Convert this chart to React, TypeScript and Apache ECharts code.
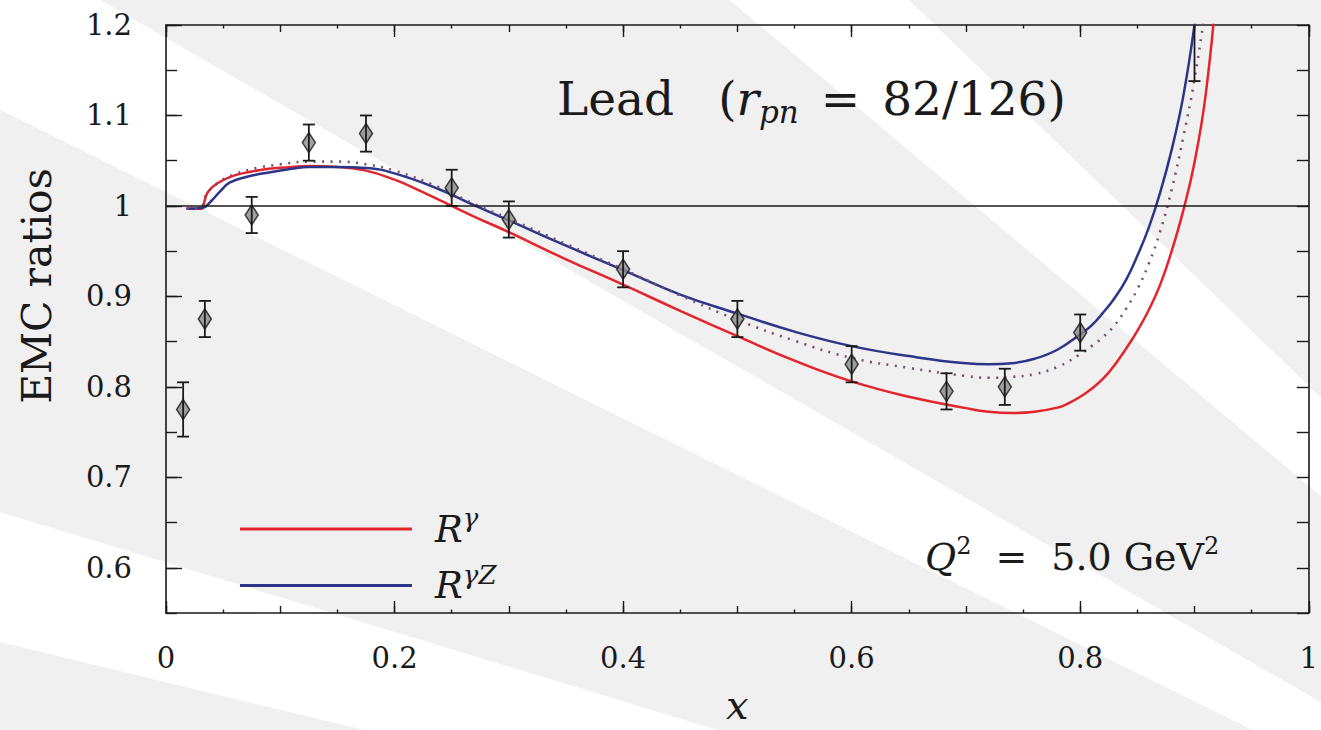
import React, { useEffect, useRef } from "react";
import * as echarts from "echarts";

// ---------------- data ----------------
const X_TICK_LABELS = [0, 0.2, 0.4, 0.6, 0.8, 1];
const Y_TICK_LABELS = [0.6, 0.7, 0.8, 0.9, 1, 1.1, 1.2];
const Y_MAJOR_TICKS = [0.6, 0.7, 0.8, 0.9, 1, 1.1, 1.2];

// experimental points (x, ratio, error)
const DATA_X = [0.015, 0.034, 0.075, 0.125, 0.175, 0.25, 0.3, 0.4, 0.5, 0.6, 0.683, 0.734, 0.8, 0.9];
const DATA_Y = [0.775, 0.875, 0.99, 1.07, 1.08, 1.02, 0.985, 0.93, 0.875, 0.825, 0.795, 0.8, 0.86, 1.22];
const DATA_ERR = [0.03, 0.02, 0.02, 0.02, 0.02, 0.02, 0.02, 0.02, 0.02, 0.02, 0.02, 0.02, 0.02, 0.082];

// R^gamma (red)
const RG_X = [0.018, 0.031, 0.034, 0.037, 0.045, 0.058, 0.075, 0.09, 0.11, 0.125, 0.15, 0.175, 0.2, 0.22, 0.24, 0.27, 0.3, 0.35, 0.4, 0.45, 0.5, 0.55, 0.6, 0.65, 0.7, 0.72, 0.74, 0.76, 0.78, 0.79, 0.8, 0.81, 0.82, 0.83, 0.84, 0.85, 0.86, 0.87, 0.88, 0.89, 0.9, 0.91, 0.92, 0.93];
const RG_Y = [0.997, 0.997, 1.007, 1.016, 1.025, 1.033, 1.038, 1.041, 1.043, 1.044, 1.043, 1.039, 1.029, 1.018, 1.006, 0.988, 0.971, 0.941, 0.913, 0.884, 0.856, 0.829, 0.806, 0.789, 0.7765, 0.7725, 0.771, 0.7725, 0.777, 0.782, 0.789, 0.798, 0.809, 0.824, 0.842, 0.862, 0.885, 0.913, 0.95, 0.994, 1.048, 1.125, 1.25, 1.42];

// R^{gamma Z} (blue)
const RZ_X = [0.018, 0.032, 0.04, 0.048, 0.056, 0.07, 0.09, 0.11, 0.125, 0.15, 0.175, 0.2, 0.238, 0.271, 0.3, 0.35, 0.4, 0.45, 0.5, 0.55, 0.6, 0.65, 0.7, 0.72, 0.74, 0.76, 0.78, 0.8, 0.81, 0.82, 0.83, 0.84, 0.85, 0.86, 0.87, 0.88, 0.89, 0.9, 0.91];
const RZ_Y = [0.997, 0.998, 1.006, 1.017, 1.026, 1.032, 1.037, 1.041, 1.043, 1.043, 1.042, 1.036, 1.019, 1.0, 0.984, 0.956, 0.929, 0.902, 0.881, 0.861, 0.845, 0.834, 0.826, 0.825, 0.826, 0.831, 0.841, 0.858, 0.868, 0.882, 0.898, 0.918, 0.945, 0.976, 1.015, 1.062, 1.12, 1.2, 1.3];

// dotted curve
const DT_X = [0.018, 0.03, 0.035, 0.045, 0.06, 0.08, 0.1, 0.125, 0.15, 0.175, 0.2, 0.238, 0.27, 0.3, 0.35, 0.4, 0.45, 0.5, 0.55, 0.6, 0.65, 0.7, 0.72, 0.74, 0.76, 0.78, 0.8, 0.81, 0.82, 0.83, 0.84, 0.85, 0.86, 0.87, 0.88, 0.89, 0.9, 0.91, 0.92];
const DT_Y = [0.997, 0.998, 1.012, 1.025, 1.035, 1.042, 1.046, 1.049, 1.049, 1.046, 1.039, 1.021, 1.002, 0.986, 0.958, 0.93, 0.901, 0.874, 0.851, 0.832, 0.821, 0.812, 0.81, 0.811, 0.814, 0.822, 0.836, 0.845, 0.855, 0.868, 0.886, 0.908, 0.936, 0.972, 1.018, 1.075, 1.14, 1.225, 1.33];

// ---------------- styles ----------------
const FONT = "'DejaVu Serif', 'Liberation Serif', serif";
const INK = "#1a1a1a";
const RED = "#e3242b";
const BLUE = "#2d3588";
const DOT = "#7a5070";
const BG_GRAY = "#f0f0f0";
const BG_CENTER = [2100, 1150];
const BG_BANDS = [
  [13.6, 16.9],
  [26.35, 29.9],
  [40, 44],
];

const zip = (xs: number[], ys: number[]) => xs.map((x, i) => [x, ys[i]]);
const isIn = (arr: number[], v: number) => arr.some((t) => Math.abs(t - v) < 1e-6);

function wedge(a1: number, a2: number) {
  const R = 4000;
  const [cx, cy] = BG_CENTER;
  const p = (a: number) => [cx - R * Math.cos((a * Math.PI) / 180), cy - R * Math.sin((a * Math.PI) / 180)];
  return {
    type: "polygon",
    silent: true,
    z: -10,
    shape: { points: [[cx, cy], p(a1), p(a2)] },
    style: { fill: "#ffffff" },
  };
}

const axisLine = { show: true, onZero: false, lineStyle: { color: INK, width: 1.6 } };
const tickStyle = { color: INK, width: 1.4 };

function buildOption(): any {
  const xBase = (position: string, withLabels: boolean) => ({
    type: "value",
    position,
    min: 0,
    max: 1,
    interval: 0.2,
    axisLine,
    axisTick: { show: true, inside: true, length: 12, lineStyle: tickStyle },
    axisLabel: withLabels
      ? {
          show: true,
          margin: 30,
          fontFamily: FONT,
          fontSize: 29,
          color: INK,
          formatter: (v: number) => (isIn(X_TICK_LABELS, v) ? String(Number(v.toFixed(2))) : ""),
        }
      : { show: false },
    splitLine: { show: false },
  });
  const xMinor = (position: string) => ({
    type: "value",
    position,
    min: 0,
    max: 1,
    interval: 0.1,
    axisLine: { show: false, onZero: false },
    axisTick: { show: true, inside: true, length: 7, lineStyle: tickStyle },
    minorTick: { show: true, splitNumber: 2, length: 3.5, lineStyle: tickStyle },
    axisLabel: { show: false },
    splitLine: { show: false },
  });

  const xBottom: any = xBase("bottom", true);
  xBottom.name = "x";
  xBottom.nameLocation = "middle";
  xBottom.nameGap = 72;
  xBottom.nameTextStyle = { fontFamily: FONT, fontStyle: "italic", fontSize: 40, color: INK };

  const yLeft = {
    type: "value",
    position: "left",
    min: 0.55,
    max: 1.2,
    interval: 0.05,
    axisLine,
    axisTick: { show: true, inside: true, length: 11, lineStyle: tickStyle },
    axisLabel: {
      show: true,
      margin: 34,
      fontFamily: FONT,
      fontSize: 29,
      color: INK,
      formatter: (v: number) => (isIn(Y_TICK_LABELS, v) ? String(Number(v.toFixed(2))) : ""),
    },
    splitLine: { show: false },
  };
  const yLeftMajor = {
    type: "value",
    position: "left",
    min: 0.55,
    max: 1.2,
    axisLine: { show: false, onZero: false },
    axisTick: { show: true, inside: true, length: 16, lineStyle: tickStyle, customValues: Y_MAJOR_TICKS },
    axisLabel: { show: false },
    splitLine: { show: false },
  };
  const yRight = {
    type: "value",
    position: "right",
    min: 0.55,
    max: 1.2,
    interval: 0.05,
    axisLine,
    axisTick: { show: true, inside: true, length: 12, lineStyle: tickStyle },
    axisLabel: { show: false },
    splitLine: { show: false },
  };

  const errData = DATA_X.map((x, i) => [x, DATA_Y[i], DATA_ERR[i]]);

  const curve = (name: string, xs: number[], ys: number[], lineStyle: any, color?: string) => ({
    name,
    type: "line",
    data: zip(xs, ys),
    symbol: "none",
    smooth: 0.45,
    clip: true,
    color,
    lineStyle,
    z: 3,
  });

  return {
    animation: false,
    backgroundColor: BG_GRAY,
    grid: { left: 166, top: 25, width: 1150, height: 608, containLabel: false },
    xAxis: [xBottom, xMinor("bottom"), xBase("top", false), xMinor("top")],
    yAxis: [yLeft, yLeftMajor, yRight],
    legend: {
      data: [
        { name: "Rγ", icon: "rect" },
        { name: "RγZ", icon: "rect" },
      ],
      orient: "vertical",
      left: 235,
      top: 500,
      itemWidth: 172,
      itemHeight: 3,
      itemGap: 14,
      selectedMode: false,
      formatter: (n: string) => (n === "Rγ" ? "{r|R}{s|γ}" : "{r|R}{s|γZ}"),
      textStyle: {
        padding: [0, 0, 0, 18],
        rich: {
          r: { fontFamily: FONT, fontStyle: "italic", fontSize: 37, lineHeight: 48, color: INK },
          s: { fontFamily: FONT, fontStyle: "italic", fontSize: 26, lineHeight: 30, verticalAlign: "top", color: INK },
        },
      },
    },
    graphic: {
      elements: [
        ...BG_BANDS.map(([a, b]) => wedge(a, b)),
        {
          type: "text",
          x: 37,
          y: 286,
          rotation: Math.PI / 2,
          silent: true,
          style: { text: "EMC ratios", fontFamily: FONT, fontSize: 41, fill: INK, align: "center", verticalAlign: "middle" },
        },
        {
          type: "text",
          x: 557,
          y: 98,
          silent: true,
          style: {
            text: "{n|Lead}{gap|}{n|(}{i|r}{sub|pn}{sp|}{n|=}{sp|}{n|82/126)}",
            align: "left",
            verticalAlign: "middle",
            fill: INK,
            rich: {
              n: { fontFamily: FONT, fontSize: 47, lineHeight: 58, fill: INK },
              gap: { width: 44, lineHeight: 58 },
              sp: { width: 22, lineHeight: 58 },
              i: { fontFamily: FONT, fontStyle: "italic", fontSize: 47, lineHeight: 58, fill: INK },
              sub: { fontFamily: FONT, fontStyle: "italic", fontSize: 31, lineHeight: 37, verticalAlign: "bottom", fill: INK },
            },
          },
        },
        {
          type: "text",
          x: 925,
          y: 557,
          silent: true,
          style: {
            text: "{i|Q}{sup|2}{sp|}{n|=}{sp|}{n|5.0}{th|}{n|GeV}{sup|2}",
            align: "left",
            verticalAlign: "middle",
            fill: INK,
            rich: {
              n: { fontFamily: FONT, fontSize: 38, lineHeight: 46, fill: INK },
              i: { fontFamily: FONT, fontStyle: "italic", fontSize: 38, lineHeight: 46, fill: INK },
              sup: { fontFamily: FONT, fontSize: 24, lineHeight: 28, verticalAlign: "top", fill: INK },
              sp: { width: 24, lineHeight: 46 },
              th: { width: 12, lineHeight: 46 },
            },
          },
        },
      ],
    },
    series: [
      curve("Rγ", RG_X, RG_Y, { color: RED, width: 2.5 }, RED),
      curve("RγZ", RZ_X, RZ_Y, { color: BLUE, width: 2.5 }, BLUE),
      curve("dotted", DT_X, DT_Y, { color: DOT, width: 2.6, type: [2, 6.5] }),
      {
        name: "data",
        type: "scatter",
        data: zip(DATA_X, DATA_Y),
        symbol: "diamond",
        symbolSize: [13, 20],
        clip: true,
        itemStyle: { color: "#8a8a8a", borderColor: INK, borderWidth: 1.6 },
        z: 5,
      },
      {
        name: "errors",
        type: "custom",
        data: errData,
        encode: { x: 0, y: 1 },
        z: 6,
        renderItem: (params: any, api: any) => {
          const x = api.value(0);
          const y = api.value(1);
          const e = api.value(2);
          const top = api.coord([x, y + e]);
          const bot = api.coord([x, y - e]);
          const cs = params.coordSys;
          const yTop = Math.max(top[1], cs.y);
          const yBot = Math.min(bot[1], cs.y + cs.height);
          const st = { stroke: INK, lineWidth: 1.8 };
          const children: any[] = [
            { type: "line", shape: { x1: top[0], y1: yTop, x2: top[0], y2: yBot }, style: st },
          ];
          if (top[1] >= cs.y) children.push({ type: "line", shape: { x1: top[0] - 6, y1: top[1], x2: top[0] + 6, y2: top[1] }, style: st });
          if (bot[1] <= cs.y + cs.height) children.push({ type: "line", shape: { x1: bot[0] - 6, y1: bot[1], x2: bot[0] + 6, y2: bot[1] }, style: st });
          return { type: "group", children };
        },
        markLine: {
          silent: true,
          symbol: "none",
          label: { show: false },
          lineStyle: { color: INK, width: 1.6, type: "solid" },
          data: [{ yAxis: 1 }],
        },
      },
    ],
  };
}

export default function App() {
  const ref = useRef<HTMLDivElement>(null);
  useEffect(() => {
    if (!ref.current) return;
    const chart = echarts.init(ref.current, null, { renderer: "svg" });
    chart.setOption(buildOption());
    return () => chart.dispose();
  }, []);
  return <div ref={ref} style={{ position: "fixed", left: 0, top: 0, width: 1321, height: 730 }} />;
}
